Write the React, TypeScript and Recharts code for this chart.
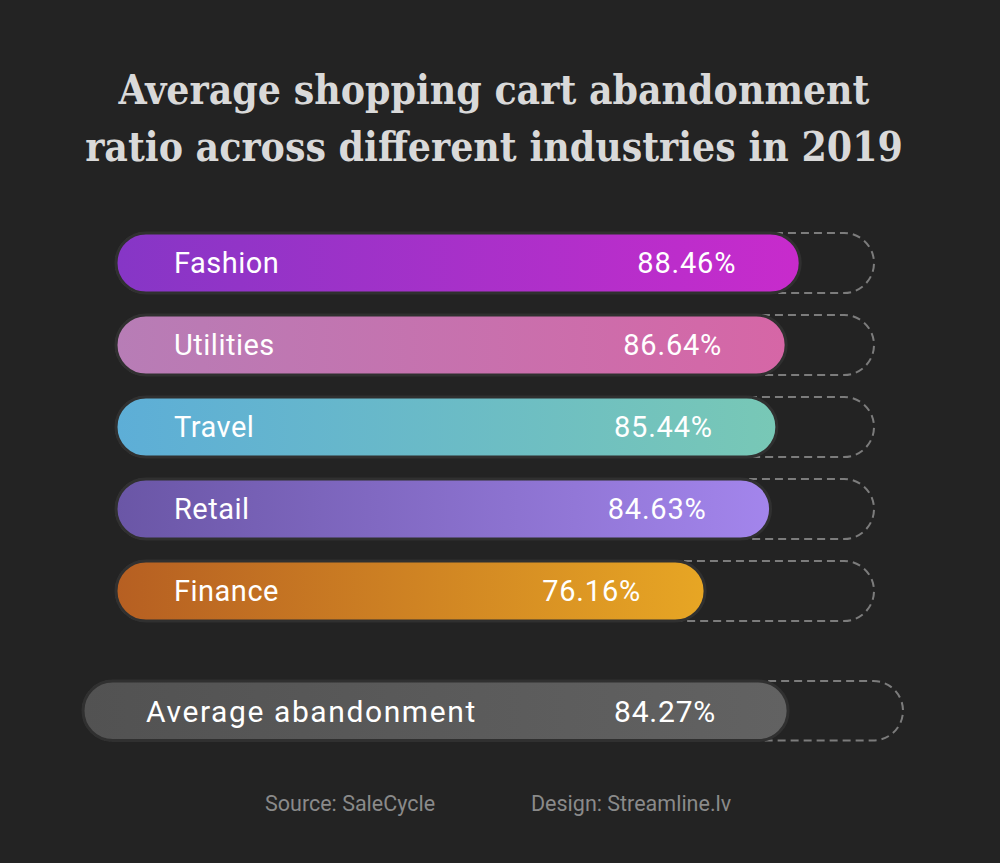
import React from 'react';
import { BarChart, Bar, XAxis, YAxis, Cell, LabelList, Rectangle } from 'recharts';

const industries = ['Fashion', 'Utilities', 'Travel', 'Retail', 'Finance'];
const ratios = [88.46, 86.64, 85.44, 84.63, 76.16];
const gradientStops = [
  ['#8636c6', '#c82bcc'],
  ['#b77db6', '#d666a6'],
  ['#5daed7', '#78c8b6'],
  ['#6a56a6', '#a385ec'],
  ['#b65f22', '#e7a624'],
];
const averageLabel = 'Average abandonment';
const averageValue = 84.27;
const titleLines = ['Average shopping cart abandonment', 'ratio across different industries in 2019'];
const credits = ['Source: SaleCycle', 'Design: Streamline.lv'];

const AXIS_MAX = 98;
const BG = '#232323';
const LABEL_FONT = 'Roboto, "DejaVu Sans", sans-serif';

const rows = industries.map((name, i) => ({ name, value: ratios[i] }));
const averageRows = [{ name: averageLabel, value: averageValue }];

// dashed 100% track behind each bar
const track = (props: any) => (
  <Rectangle
    x={props.x}
    y={props.y}
    width={props.width}
    height={props.height}
    radius={props.height / 2}
    fill="none"
    stroke="#7c7c7c"
    strokeWidth={2}
    strokeDasharray="8 5"
  />
);

const nameLabel = (offset: number, size: number, spacing: number) => (props: any) => {
  const { x, y, height, value } = props;
  return (
    <text
      x={x + offset}
      y={y + height / 2}
      dy="0.36em"
      fill="#ffffff"
      fontSize={size}
      letterSpacing={spacing}
      fontFamily={LABEL_FONT}
    >
      {value}
    </text>
  );
};

const valueLabel = (offset: number, size: number, spacing: number) => (props: any) => {
  const { x, y, width, height, value } = props;
  return (
    <text
      x={x + width - offset}
      y={y + height / 2}
      dy="0.36em"
      textAnchor="end"
      fill="#ffffff"
      fontSize={size}
      letterSpacing={spacing}
      fontFamily={LABEL_FONT}
    >
      {`${value.toFixed(2)}%`}
    </text>
  );
};

export default function App() {
  return (
    <div style={{ position: 'absolute', left: 0, top: 0, width: 1000, height: 863, background: BG, overflow: 'hidden' }}>
      <div
        style={{
          position: 'absolute',
          top: 62,
          left: 0,
          width: 988,
          textAlign: 'center',
          color: '#d9d9d9',
          fontFamily: '"DejaVu Serif Condensed", "DejaVu Serif", serif',
          fontWeight: 'bold',
          fontSize: 40.5,
          lineHeight: '57px',
        }}
      >
        {titleLines.map((t) => (
          <div key={t}>{t}</div>
        ))}
      </div>

      <div style={{ position: 'absolute', left: 0, top: 0 }}>
        <BarChart width={1000} height={640} layout="vertical" data={rows} margin={{ top: 222, right: 126, bottom: 8, left: 116 }} barCategoryGap={22}>
          <defs>
            {gradientStops.map(([a, b], i) => (
              <linearGradient key={i} id={`grad${i}`} x1="0" y1="0" x2="1" y2="0">
                <stop offset="0%" stopColor={a} />
                <stop offset="100%" stopColor={b} />
              </linearGradient>
            ))}
          </defs>
          <XAxis type="number" domain={[0, AXIS_MAX]} hide />
          <YAxis type="category" dataKey="name" hide />
          <Bar
            dataKey="value"
            barSize={60}
            radius={30}
            background={track}
            stroke="#303030"
            strokeWidth={3}
            isAnimationActive={false}
          >
            {rows.map((r, i) => (
              <Cell key={r.name} fill={`url(#grad${i})`} />
            ))}
            <LabelList dataKey="name" content={nameLabel(58, 29, 0.5)} />
            <LabelList dataKey="value" content={valueLabel(64, 29, 0.8)} />
          </Bar>
        </BarChart>
      </div>

      <div style={{ position: 'absolute', left: 0, top: 660 }}>
        <BarChart width={1000} height={110} layout="vertical" data={averageRows} margin={{ top: 18, right: 97, bottom: 26, left: 83 }} barCategoryGap={0}>
          <defs>
            <linearGradient id="gradAvg" x1="0" y1="0" x2="1" y2="0">
              <stop offset="0%" stopColor="#525252" />
              <stop offset="100%" stopColor="#626262" />
            </linearGradient>
          </defs>
          <XAxis type="number" domain={[0, AXIS_MAX]} hide />
          <YAxis type="category" dataKey="name" hide />
          <Bar
            dataKey="value"
            barSize={66}
            radius={33}
            fill="url(#gradAvg)"
            background={track}
            stroke="#303030"
            strokeWidth={3}
            isAnimationActive={false}
          >
            <LabelList dataKey="name" content={nameLabel(63, 30, 1.6)} />
            <LabelList dataKey="value" content={valueLabel(72, 30, 0.8)} />
          </Bar>
        </BarChart>
      </div>

      <div
        style={{
          position: 'absolute',
          top: 791,
          left: 0,
          width: 1000,
          fontFamily: LABEL_FONT,
          fontSize: 21.5,
          color: '#8a8a8a',
        }}
      >
        <span style={{ position: 'absolute', left: 265 }}>{credits[0]}</span>
        <span style={{ position: 'absolute', left: 531 }}>{credits[1]}</span>
      </div>
    </div>
  );
}
